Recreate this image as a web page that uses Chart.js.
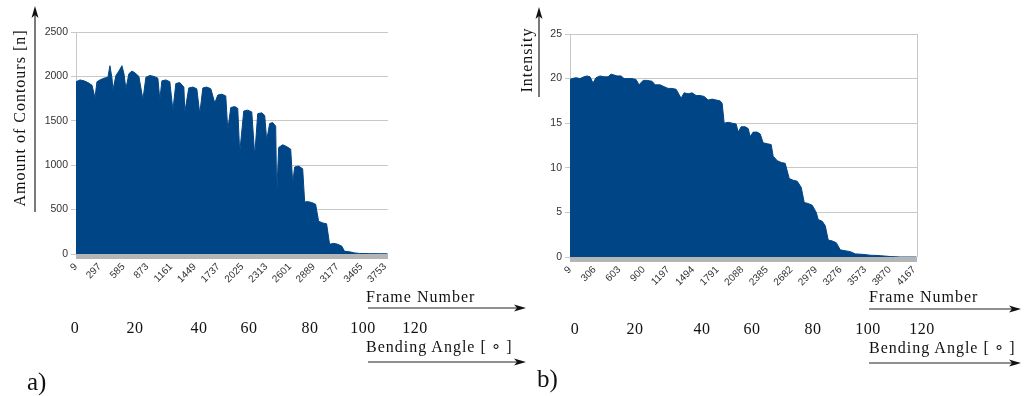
<!DOCTYPE html>
<html>
<head>
<meta charset="utf-8">
<script src="https://cdn.jsdelivr.net/npm/chart.js@4.4.0/dist/chart.umd.min.js"></script>
<style>
body { margin:0; background:#fff; width:1024px; height:396px; overflow:hidden; position:relative; }
canvas { position:absolute; top:0; }
#arrows { position:absolute; left:0; top:0; }
.lbl { position:absolute; white-space:nowrap; color:#111; font-family:"Liberation Serif", serif;
       font-size:16px; letter-spacing:1px; line-height:1; transform:translateY(-50%); }
.num { transform:translate(-50%,-50%); letter-spacing:0.5px; }
.vt { transform:translate(-50%,-50%) rotate(-90deg); }
.tag { font-size:25px; letter-spacing:0; }
</style>
</head>
<body>
<canvas id="contourChart" width="400" height="292" style="left:0px"></canvas>
<canvas id="intensityChart" width="450" height="292" style="left:480px"></canvas>
<svg id="arrows" width="1024" height="396"></svg>
<div id="labels"></div>

<script type="text/javascript">
// frame numbers and number of contours per frame (panel a)
var contourFrames = [9, 57, 106, 154, 203, 239, 263, 299, 348, 396, 420, 445, 457, 493, 529, 566, 590, 614,
    650, 687, 723, 771, 820, 856, 904, 953, 1001, 1025, 1050, 1098, 1146, 1183, 1219, 1267, 1316, 1328,
    1376, 1425, 1473, 1509, 1546, 1594, 1643, 1691, 1727, 1776, 1824, 1848, 1885, 1933, 1969, 1993,
    2042, 2090, 2139, 2175, 2211, 2260, 2296, 2320, 2356, 2393, 2429, 2441, 2465, 2514, 2562, 2611,
    2635, 2659, 2707, 2756, 2780, 2816, 2865, 2913, 2949, 2998, 3046, 3082, 3131, 3179, 3228, 3264,
    3324, 3385, 3445, 3566, 3687, 3784];
var contourCounts = [1940, 1960, 1950, 1930, 1900, 1760, 1940, 1960, 1980, 1990, 2120, 1980, 1850, 2010, 2060, 2120, 2030, 1860,
    2030, 2060, 2040, 2000, 1740, 1990, 2010, 2000, 1980, 1740, 1950, 1960, 1940, 1620, 1920, 1930, 1880, 1600,
    1870, 1880, 1860, 1580, 1870, 1880, 1860, 1700, 1790, 1800, 1780, 1400, 1650, 1660, 1640, 1140,
    1610, 1620, 1600, 1110, 1580, 1590, 1560, 1280, 1470, 1480, 1440, 660, 1200, 1230, 1210, 1180,
    800, 980, 990, 960, 585, 590, 580, 560, 370, 350, 340, 110, 120, 110, 90, 30,
    25, 12, 6, 4, 3, 2];

// frame numbers and mean intensity per frame (panel b)
var intensityFrames = [9, 33, 82, 130, 178, 215, 251, 287, 323, 372, 420, 468, 505, 541, 577, 626, 662, 710,
    759, 807, 843, 892, 940, 1000, 1037, 1097, 1145, 1194, 1242, 1291, 1351, 1387, 1436, 1484, 1532,
    1581, 1629, 1677, 1726, 1774, 1823, 1847, 1871, 1919, 1968, 2016, 2040, 2076, 2125, 2161, 2185,
    2221, 2270, 2306, 2342, 2391, 2439, 2463, 2512, 2560, 2608, 2657, 2705, 2753, 2802, 2838, 2886,
    2935, 2983, 3007, 3056, 3092, 3128, 3177, 3225, 3273, 3334, 3394, 3455, 3539, 3636, 3757, 3878,
    3999, 4192];
var intensityValues = [19.9, 20.0, 20.1, 20.0, 20.2, 20.3, 20.2, 19.5, 20.1, 20.3, 20.2, 20.2, 20.5, 20.4, 20.3, 20.3, 20.0, 20.0,
    20.0, 19.9, 19.3, 19.8, 19.8, 19.7, 19.3, 19.3, 19.1, 18.9, 18.9, 18.8, 17.8, 18.4, 18.3, 18.4, 18.1,
    18.1, 18.0, 17.6, 17.7, 17.6, 17.5, 17.2, 15.0, 15.1, 15.0, 14.9, 14.0, 14.6, 14.6, 14.4, 13.5,
    14.0, 14.0, 13.8, 12.8, 12.7, 12.6, 11.3, 10.8, 10.6, 10.5, 8.8, 8.6, 8.5, 7.8, 6.1, 6.0,
    5.8, 5.0, 4.2, 4.0, 3.5, 1.9, 1.8, 1.6, 0.8, 0.7, 0.6, 0.35, 0.3, 0.2, 0.15, 0.05,
    0, 0];

var contourTicks = [9, 297, 585, 873, 1161, 1449, 1737, 2025, 2313, 2601, 2889, 3177, 3465, 3753];
var intensityTicks = [9, 306, 603, 900, 1197, 1494, 1791, 2088, 2385, 2682, 2979, 3276, 3573, 3870, 4167];
var angleLabels = ['0', '20', '40', '60', '80', '100', '120'];

// gray band under the axis and optional right frame line
var axisBand = {
    id: 'axisBand',
    afterDatasetsDraw: function(chart, args, opts) {
        var a = chart.chartArea, ctx = chart.ctx;
        ctx.save();
        ctx.fillStyle = '#b5b5b5';
        ctx.fillRect(a.left, a.bottom, a.right - a.left, 5);
        if (opts.rightEdge) {
            ctx.strokeStyle = '#c8c8c8';
            ctx.lineWidth = 1;
            ctx.beginPath();
            ctx.moveTo(Math.round(a.right) + 0.5, a.top);
            ctx.lineTo(Math.round(a.right) + 0.5, a.bottom);
            ctx.stroke();
        }
        ctx.restore();
    }
};

function makeChart(id, frames, values, ticks, xMax, yMax, yStep, area, rightEdge) {
    var cv = document.getElementById(id);
    var W = cv.width, H = cv.height;
    var pts = frames.map(function(f, i) { return {x: f, y: values[i]}; });
    return new Chart(cv.getContext('2d'), {
        type: 'line',
        data: { datasets: [{ data: pts, fill: 'origin', backgroundColor: '#004586', borderColor: '#004586',
                             borderWidth: 1, pointRadius: 0, tension: 0 }] },
        plugins: [axisBand],
        options: {
            responsive: false, animation: false, devicePixelRatio: 1,
            layout: { padding: { top: area.top, right: W - area.right, left: 0, bottom: 0 } },
            plugins: { legend: { display: false }, tooltip: { enabled: false }, axisBand: { rightEdge: rightEdge } },
            scales: {
                x: {
                    type: 'linear', min: frames[0], max: xMax,
                    grid: { display: false, drawTicks: false },
                    border: { display: false },
                    afterBuildTicks: function(s) { s.ticks = ticks.map(function(v) { return {value: v}; }); },
                    afterFit: function(s) { s.height = H - area.bottom; s.paddingLeft = 0; s.paddingRight = 0; },
                    ticks: { autoSkip: false, minRotation: 45, maxRotation: 45, padding: 7, color: '#333',
                             font: { family: 'Liberation Sans', size: 10 },
                             callback: function(v) { return String(v); } }
                },
                y: {
                    min: 0, max: yMax,
                    grid: { color: '#c8c8c8', tickLength: 5 },
                    border: { color: '#c8c8c8' },
                    afterFit: function(s) { s.width = area.left; },
                    ticks: { stepSize: yStep, padding: 3, color: '#333',
                             font: { family: 'Liberation Sans', size: 10.5 },
                             callback: function(v) { return String(v); } }
                }
            }
        }
    });
}

makeChart('contourChart', contourFrames, contourCounts, contourTicks, 3790, 2500, 500,
          {left: 76, top: 32, right: 388, bottom: 254}, false);
makeChart('intensityChart', intensityFrames, intensityValues, intensityTicks, 4200, 25, 5,
          {left: 90, top: 34, right: 437, bottom: 257}, true);

// annotations around the two panels
var holder = document.getElementById('labels');
function addLabel(text, x, y, cls) {
    var d = document.createElement('div');
    d.className = 'lbl' + (cls ? ' ' + cls : '');
    d.textContent = text;
    d.style.left = x + 'px';
    d.style.top = y + 'px';
    holder.appendChild(d);
}
var leftAngleX = [75, 135, 199, 249, 310, 363, 415];
var rightAngleX = [575, 635, 702, 752, 813, 868, 922];
angleLabels.forEach(function(t, i) {
    addLabel(t, leftAngleX[i], 328, 'num');
    addLabel(t, rightAngleX[i], 329, 'num');
});
addLabel('Amount of Contours [n]', 20, 118, 'vt');
addLabel('Intensity', 527, 60, 'vt');
addLabel('Frame Number', 366, 297);
addLabel('Frame Number', 869, 297);
addLabel('Bending Angle [\u2009\u2218\u2009]', 366, 347);
addLabel('Bending Angle [\u2009\u2218\u2009]', 869, 348);
addLabel('a)', 27, 381, 'tag');
addLabel('b)', 537, 378, 'tag');

// arrows
var svg = document.getElementById('arrows');
var svgNS = 'http://www.w3.org/2000/svg';
function line(x1, y1, x2, y2) {
    var l = document.createElementNS(svgNS, 'line');
    l.setAttribute('x1', x1); l.setAttribute('y1', y1);
    l.setAttribute('x2', x2); l.setAttribute('y2', y2);
    l.setAttribute('stroke', '#222'); l.setAttribute('stroke-width', '1.2');
    svg.appendChild(l);
}
function head(d) {
    var p = document.createElementNS(svgNS, 'path');
    p.setAttribute('d', d); p.setAttribute('fill', '#111');
    svg.appendChild(p);
}
function upArrow(x, y0, tip) {
    line(x, y0, x, tip + 8);
    head('M' + x + ' ' + tip + ' L' + (x + 3.5) + ' ' + (tip + 12) + ' L' + x + ' ' + (tip + 9) +
         ' L' + (x - 3.5) + ' ' + (tip + 12) + ' Z');
}
function rightArrow(x0, tip, y) {
    line(x0, y, tip - 8, y);
    head('M' + tip + ' ' + y + ' L' + (tip - 12) + ' ' + (y - 3.5) + ' L' + (tip - 9) + ' ' + y +
         ' L' + (tip - 12) + ' ' + (y + 3.5) + ' Z');
}
upArrow(35, 212, 6);
upArrow(539, 97, 7);
rightArrow(368, 526, 308);
rightArrow(368, 526, 362);
rightArrow(869, 1021, 309);
rightArrow(869, 1021, 363);
</script>
</body>
</html>
